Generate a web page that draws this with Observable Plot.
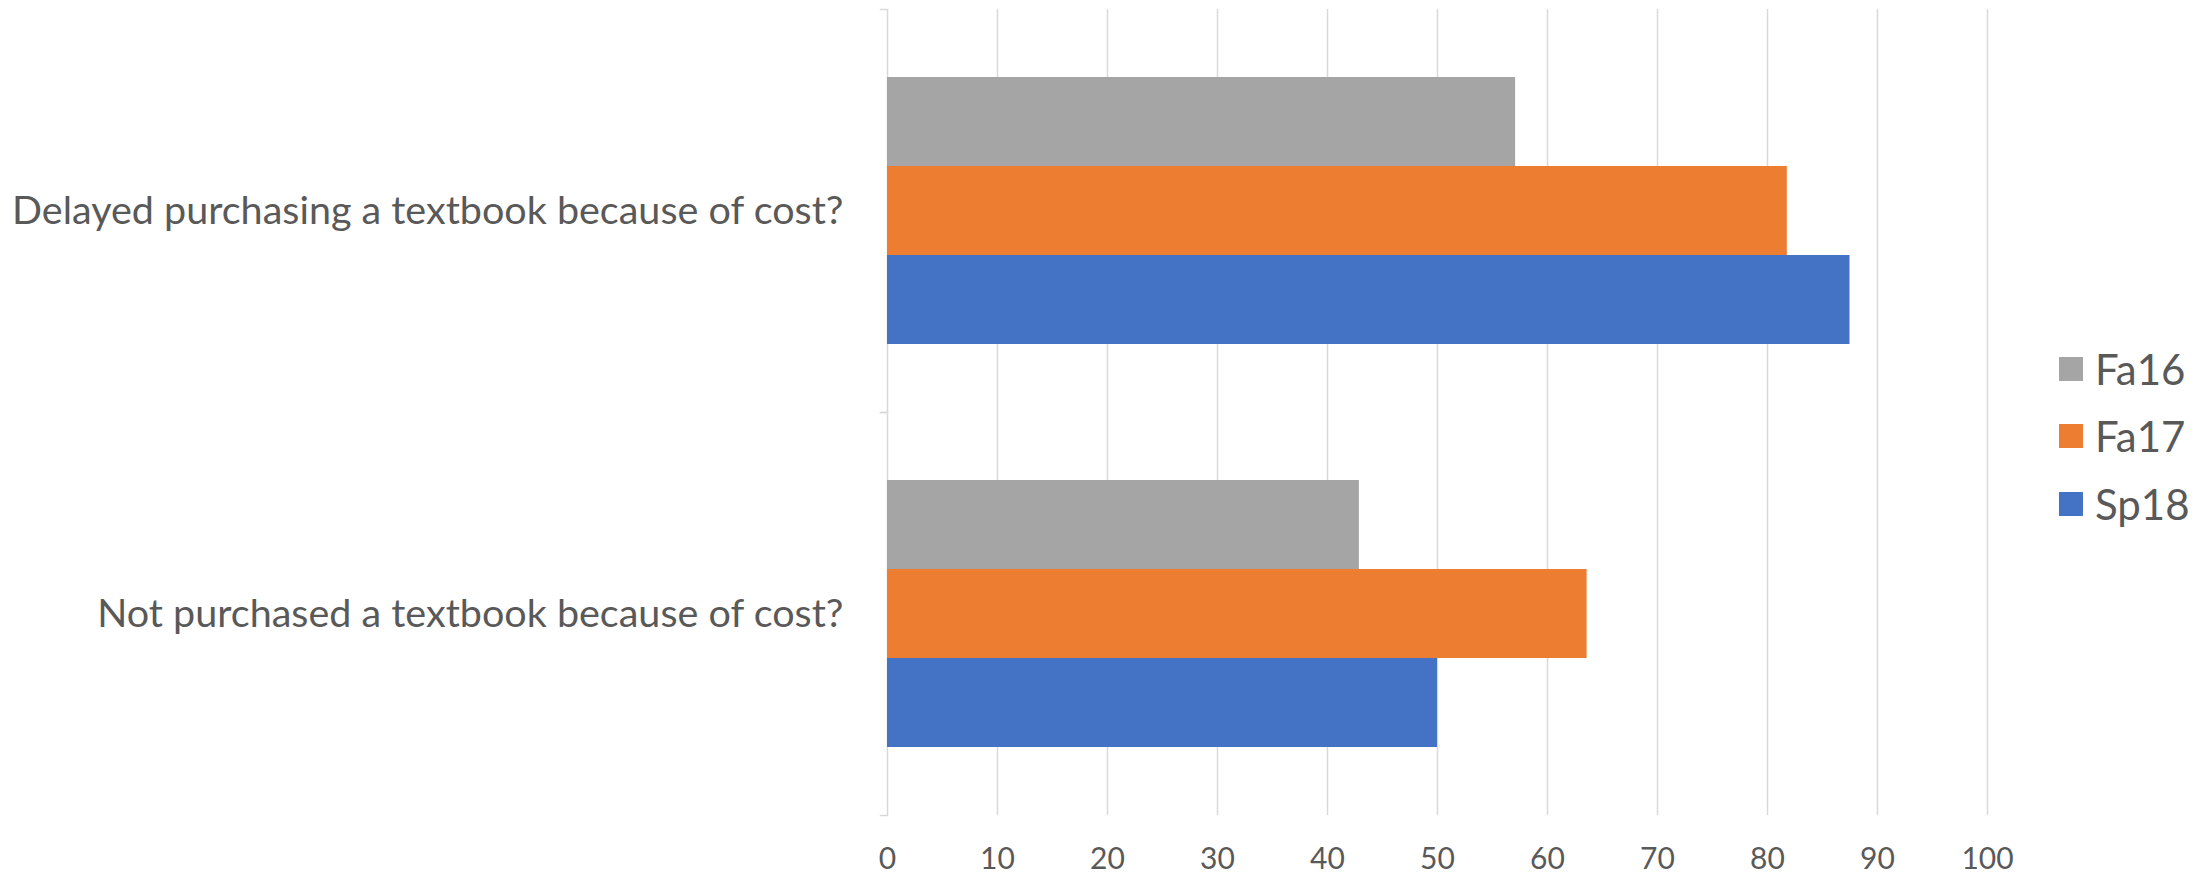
<!DOCTYPE html>
<html>
<head>
<meta charset="utf-8">
<script src="https://cdn.jsdelivr.net/npm/d3@7"></script>
<script src="https://cdn.jsdelivr.net/npm/@observablehq/plot@0.6"></script>
<style>
  html, body { margin: 0; padding: 0; background: #ffffff; }
  #wrap { position: relative; width: 2206px; height: 873px; font-family: Lato, "Open Sans", sans-serif; }
  #legend { position: absolute; left: 2059px; top: 335px; color: #595959; font-size: 42px; line-height: 1; }
  .item { display: flex; align-items: center; height: 67.5px; }
  .sw { width: 24px; height: 24px; margin-right: 12px; flex: none; }
</style>
</head>
<body>
<div id="wrap"></div>
<script>
const categories = [
  "Delayed purchasing a textbook because of cost?",
  "Not purchased a textbook because of cost?"
];
const seriesNames = ["Fa16", "Fa17", "Sp18"];
const fa16 = [57.1, 42.9];
const fa17 = [81.8, 63.6];
const sp18 = [87.5, 50.0];
const seriesColors = ["#A5A5A5", "#ED7D31", "#4472C4"];
const xTicks = [0, 10, 20, 30, 40, 50, 60, 70, 80, 90, 100];

const valuesBySeries = [fa16, fa17, sp18];
const rows = [];
categories.forEach((c, i) => {
  seriesNames.forEach((s, j) => {
    rows.push({category: c, series: s, value: valuesBySeries[j][i]});
  });
});

const textColor = "#595959";
const gridColor = "#D9D9D9";

const chart = Plot.plot({
  width: 2206,
  height: 873,
  marginLeft: 887,
  marginRight: 219,
  marginTop: 8,
  marginBottom: 58,
  style: {fontFamily: "Lato, 'Open Sans', sans-serif", color: textColor, background: "#ffffff", overflow: "visible"},
  x: {domain: [0, 100], axis: null},
  y: {domain: seriesNames, paddingInner: 0, paddingOuter: 0.75, axis: null},
  fy: {domain: categories, padding: 0, axis: null},
  color: {domain: seriesNames, range: seriesColors},
  marks: [
    Plot.gridX({ticks: xTicks, stroke: gridColor, strokeOpacity: 1, strokeWidth: 1.5}),
    Plot.frame({anchor: "top", stroke: gridColor, strokeOpacity: 1, strokeWidth: 1.5, insetLeft: -7, insetRight: 1100}),
    Plot.frame({anchor: "bottom", stroke: gridColor, strokeOpacity: 1, strokeWidth: 1.5, insetLeft: -7, insetRight: 1100}),
    Plot.barX(rows, {x: "value", y: "series", fy: "category", fill: "series"}),
    Plot.axisX({ticks: xTicks, tickSize: 0, tickPadding: 32, fontSize: 30, fill: textColor, anchor: "bottom", label: null}),
    Plot.axisFy({anchor: "left", tickSize: 0, tickPadding: 44, fontSize: 39.5, fill: textColor, label: null})
  ]
});

const wrap = document.getElementById("wrap");
wrap.appendChild(chart);

const legend = document.createElement("div");
legend.id = "legend";
seriesNames.forEach((s, j) => {
  const item = document.createElement("div");
  item.className = "item";
  const sw = document.createElement("span");
  sw.className = "sw";
  sw.style.background = seriesColors[j];
  const t = document.createElement("span");
  t.textContent = s;
  item.appendChild(sw);
  item.appendChild(t);
  legend.appendChild(item);
});
wrap.appendChild(legend);
</script>
</body>
</html>
